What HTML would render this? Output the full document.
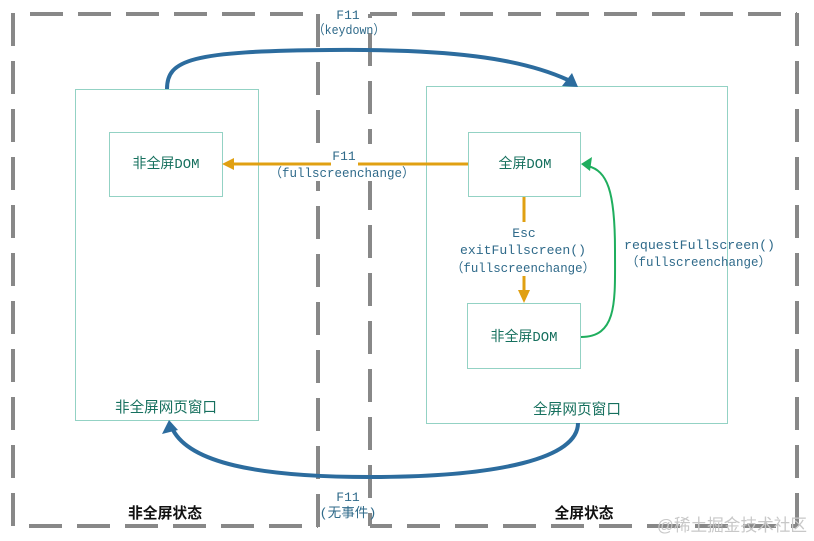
<!DOCTYPE html>
<html><head><meta charset="utf-8"><style>
html,body{margin:0;padding:0;background:#fff;}
svg{display:block;}
.mono{font-family:"Liberation Mono","Noto Sans CJK SC",monospace;font-size:13px;fill:#2f6a8a;}
.dom{font-family:"Liberation Mono","Noto Sans CJK SC",monospace;font-size:14px;fill:#16705e;}
.cjk{font-family:"Liberation Sans","Noto Sans CJK SC",sans-serif;font-size:14.6px;fill:#16705e;}
.bold{font-family:"Liberation Sans","Noto Sans CJK SC",sans-serif;font-size:14.8px;font-weight:bold;fill:#111;}
</style></head><body>
<svg width="814" height="541" viewBox="0 0 814 541" xmlns="http://www.w3.org/2000/svg">
<!-- dashed state rectangles -->
<g stroke="#888" stroke-width="4" fill="none" stroke-dasharray="33 15">
  <line x1="30" y1="14" x2="304" y2="14"/>
  <line x1="13" y1="13" x2="13" y2="526"/>
  <line x1="318" y1="14" x2="318" y2="527"/>
  <line x1="29" y1="526" x2="318" y2="526"/>
  <line x1="370" y1="14" x2="797" y2="14" stroke-dashoffset="6"/>
  <line x1="370" y1="14" x2="370" y2="526" stroke-dashoffset="29"/>
  <line x1="797" y1="13" x2="797" y2="526"/>
  <line x1="370" y1="526" x2="797" y2="526" stroke-dashoffset="11"/>
</g>
<!-- label background for orange connector -->
<rect x="268" y="144" width="149" height="37" fill="#fff"/>
<!-- windows -->
<rect x="75.5" y="89.5" width="183" height="331" fill="none" stroke="#93d2c4" stroke-width="1"/>
<rect x="426.5" y="86.5" width="301" height="337" fill="none" stroke="#93d2c4" stroke-width="1"/>
<!-- DOM boxes -->
<rect x="109.5" y="132.5" width="113" height="64" fill="#fff" stroke="#93d2c4" stroke-width="1"/>
<rect x="468.5" y="132.5" width="112" height="64" fill="#fff" stroke="#93d2c4" stroke-width="1"/>
<rect x="467.5" y="303.5" width="113" height="65" fill="#fff" stroke="#93d2c4" stroke-width="1"/>

<!-- blue top arrow -->
<path d="M167,89 C167,60 190,51 330,50 C450,49 520,58 568,80" fill="none" stroke="#2c6c9e" stroke-width="4"/>
<polygon points="578,87 562,86 572,73" fill="#2c6c9e"/>
<!-- blue bottom arrow -->
<path d="M578,423 C578,458 500,477 370,477 C255,477 190,462 173,430" fill="none" stroke="#2c6c9e" stroke-width="4"/>
<polygon points="169,420 162,434 178,430" fill="#2c6c9e"/>

<!-- orange horizontal -->
<line x1="468" y1="164" x2="230" y2="164" stroke="#e0a012" stroke-width="3"/>
<polygon points="222,164 234,158 234,170" fill="#e0a012"/>
<rect x="331" y="150" width="27" height="16" fill="#fff"/>
<!-- orange vertical -->
<line x1="524" y1="197" x2="524" y2="222" stroke="#e0a012" stroke-width="3"/>
<line x1="524" y1="276" x2="524" y2="293" stroke="#e0a012" stroke-width="3"/>
<polygon points="524,303 518,290 530,290" fill="#e0a012"/>

<!-- green curve -->
<path d="M581,337 C618,337 615,300 615,250 C615,190 607,171 588,166" fill="none" stroke="#1fae5e" stroke-width="2"/>
<polygon points="581,164 592,157 590,171" fill="#1fae5e"/>

<!-- labels -->
<text class="mono" x="348" y="19" text-anchor="middle">F11</text>
<text class="mono" x="349" y="34" text-anchor="middle" textLength="72" lengthAdjust="spacingAndGlyphs">（keydown）</text>

<text class="mono" x="344" y="160" text-anchor="middle">F11</text>
<text class="mono" x="342" y="177" text-anchor="middle" textLength="145" lengthAdjust="spacingAndGlyphs">（fullscreenchange）</text>

<text class="mono" x="524" y="237" text-anchor="middle">Esc</text>
<text class="mono" x="523" y="254" text-anchor="middle" textLength="126" lengthAdjust="spacingAndGlyphs">exitFullscreen()</text>
<text class="mono" x="523" y="272" text-anchor="middle" textLength="144" lengthAdjust="spacingAndGlyphs">（fullscreenchange）</text>

<text class="mono" x="624" y="249" textLength="151" lengthAdjust="spacingAndGlyphs">requestFullscreen()</text>
<text class="mono" x="626" y="266" textLength="145" lengthAdjust="spacingAndGlyphs">（fullscreenchange）</text>

<text class="mono" x="348" y="501" text-anchor="middle">F11</text>
<text class="mono" x="348" y="517" text-anchor="middle" textLength="57" lengthAdjust="spacingAndGlyphs">(无事件)</text>

<text class="dom" x="166" y="168" text-anchor="middle" textLength="67" lengthAdjust="spacingAndGlyphs">非全屏DOM</text>
<text class="dom" x="525" y="168" text-anchor="middle" textLength="53" lengthAdjust="spacingAndGlyphs">全屏DOM</text>
<text class="dom" x="524" y="341" text-anchor="middle" textLength="67" lengthAdjust="spacingAndGlyphs">非全屏DOM</text>

<text class="cjk" x="166" y="412" text-anchor="middle" textLength="102" lengthAdjust="spacingAndGlyphs">非全屏网页窗口</text>
<text class="cjk" x="577" y="414" text-anchor="middle" textLength="88" lengthAdjust="spacingAndGlyphs">全屏网页窗口</text>

<text class="bold" x="165" y="518" text-anchor="middle" textLength="74" lengthAdjust="spacingAndGlyphs">非全屏状态</text>
<text class="bold" x="584" y="518" text-anchor="middle" textLength="59" lengthAdjust="spacingAndGlyphs">全屏状态</text>

<text x="657" y="531" font-family="Liberation Sans, Noto Sans CJK SC, sans-serif" font-size="17" fill="#c8c8c8" textLength="150" lengthAdjust="spacingAndGlyphs">@稀土掘金技术社区</text>
</svg>
</body></html>
